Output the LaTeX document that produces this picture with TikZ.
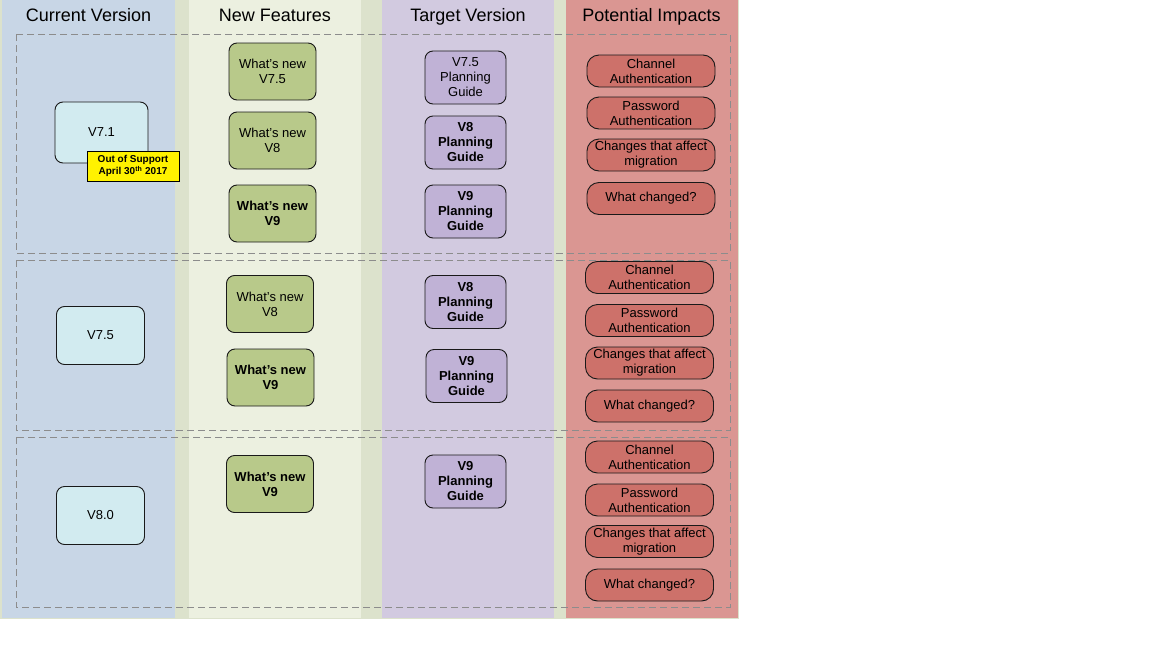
\documentclass[tikz,border=0pt]{standalone}
\usepackage{fontspec}
\setmainfont{Liberation Sans}
\definecolor{bgcol}{HTML}{DCE2CC}
\definecolor{curband}{HTML}{C8D6E6}
\definecolor{featband}{HTML}{ECF0E0}
\definecolor{tgtband}{HTML}{D2CAE0}
\definecolor{impband}{HTML}{DA9692}
\definecolor{curfill}{HTML}{D2EBF0}
\definecolor{featfill}{HTML}{B8C98A}
\definecolor{tgtfill}{HTML}{C0B2D6}
\definecolor{impfill}{HTML}{CD716A}
\tikzset{
  box/.style={draw=black!90, line width=0.9pt, rounded corners=8pt, align=center, inner sep=1pt, font=\fontsize{13}{15}\selectfont},
  cur/.style={box, fill=curfill, minimum width=88pt, minimum height=58pt},
  feat/.style={box, fill=featfill, minimum width=87pt, minimum height=57pt},
  guide/.style={box, fill=tgtfill, minimum width=81pt, minimum height=53pt},
  impact/.style={box, fill=impfill, rounded corners=12pt, minimum width=128pt, minimum height=32pt},
  head/.style={anchor=base, font=\fontsize{18}{20}\selectfont},
  group/.style={draw=black!45, line width=0.8pt, dash pattern=on 7pt off 4pt}
}
\begin{document}
\begin{tikzpicture}[x=1pt,y=-1pt]
\useasboundingbox (0,0) rectangle (1152,648);
\fill[bgcol] (0,0) rectangle (739,619);
\fill[curband] (2,0) rectangle (175,618);
\fill[featband] (189,0) rectangle (361,618);
\fill[tgtband] (382,0) rectangle (554,618);
\fill[impband] (566,0) rectangle (738,618);

\node[head] (hcur) at (88.5,21) {Current Version};
\node[head] (hfeat) at (275,21) {New Features};
\node[head] (htgt) at (468,21) {Target Version};
\node[head] (himp) at (651.5,21) {Potential Impacts};

\draw[group] (16,34) rectangle (730,253);
\draw[group] (16,260) rectangle (730,430);
\draw[group] (16,437) rectangle (730,607);

\node[cur, minimum width=93pt, minimum height=61pt] (v71) at (101.5,132.5) {V7.1};
\node[draw=black, line width=0.9pt, fill=yellow, align=center, inner sep=1pt, minimum width=92pt, minimum height=30pt,
  font=\bfseries\fontsize{10}{12.5}\selectfont] (eos) at (133,166) {Out of Support\\April 30\textsuperscript{th} 2017};
\node[cur] (v75) at (100.5,335.5) {V7.5};
\node[cur] (v80) at (100.5,515.5) {V8.0};

\node[feat] (new75a) at (272.5,71.5) {What’s new\\V7.5};
\node[feat] (new8a) at (272.5,140.5) {What’s new\\V8};
\node[feat, font=\bfseries\fontsize{13}{15}\selectfont] (new9a) at (272.5,213.5) {What’s new\\V9};
\node[feat] (new8b) at (270,304) {What’s new\\V8};
\node[feat, font=\bfseries\fontsize{13}{15}\selectfont] (new9b) at (270.5,377.5) {What’s new\\V9};
\node[feat, font=\bfseries\fontsize{13}{15}\selectfont] (new9c) at (270,484) {What’s new\\V9};

\node[guide] (pg75a) at (465.5,77.5) {V7.5\\Planning\\Guide};
\node[guide, font=\bfseries\fontsize{13}{15}\selectfont] (pg8a) at (465.5,142.5) {V8\\Planning\\Guide};
\node[guide, font=\bfseries\fontsize{13}{15}\selectfont] (pg9a) at (465.5,211.5) {V9\\Planning\\Guide};
\node[guide, font=\bfseries\fontsize{13}{15}\selectfont] (pg8b) at (465.5,302) {V8\\Planning\\Guide};
\node[guide, font=\bfseries\fontsize{13}{15}\selectfont] (pg9b) at (466.5,376) {V9\\Planning\\Guide};
\node[guide, font=\bfseries\fontsize{13}{15}\selectfont] (pg9c) at (465.5,481.5) {V9\\Planning\\Guide};

\foreach \n/\x/\a/\b/\c/\d in {1/651/71/113/155/198.5, 2/649.5/277.5/320.5/363/406, 3/649.5/457/500/541.5/585} {
  \node[impact] (chan\n) at (\x,\a) {Channel\\Authentication};
  \node[impact] (pass\n) at (\x,\b) {Password\\Authentication};
  \node[impact] (migr\n) at (\x,\c) {Changes that affect\\migration};
  \node[impact] (what\n) at (\x,\d) {What changed?};
}
\end{tikzpicture}
\end{document}
